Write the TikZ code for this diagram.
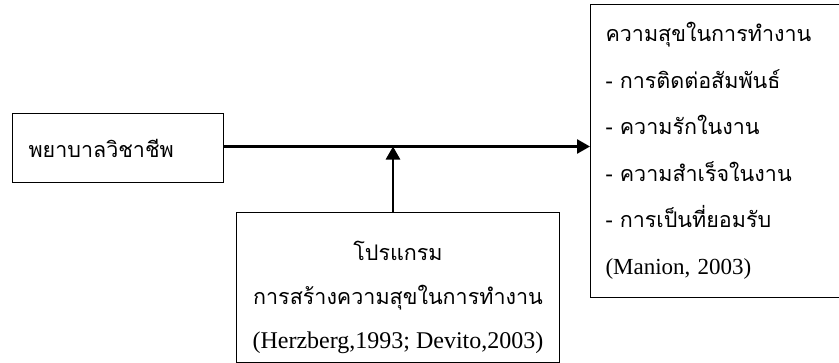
\documentclass[tikz,border=0pt]{standalone}
\usepackage{fontspec}
\usepackage{tikz}
\usetikzlibrary{arrows.meta}
\setmainfont{Liberation Serif}
\newfontfamily\thaifont[Script=Thai]{Loma}

\tikzset{
    framebox/.style={draw=black, line width=1pt, inner sep=0pt},
    flowline/.style={line width=2.6pt, -{Triangle[length=13pt, width=14pt]}}
}

\begin{document}
\begin{tikzpicture}[x=1pt, y=-1pt]
    \useasboundingbox (0,0) rectangle (839,362);
    % left box
    \node[framebox, anchor=north west, minimum width=211pt, minimum height=69pt,
          text width=179pt, align=left, inner xsep=16pt] (nurse) at (12,113)
          {\thaifont\fontsize{21.5}{24}\selectfont พยาบาลวิชาชีพ};
    % right box
    \node[framebox, anchor=north west, minimum width=253pt, minimum height=293pt,
          text width=223pt, align=left, inner xsep=15pt,
          font={\fontsize{21.5}{46.5}\selectfont}] (happy) at (590,4)
          {\thaifont ความสุขในการทำงาน\\
           \thaifont - การติดต่อสัมพันธ์\\
           \thaifont - ความรักในงาน\\
           \thaifont - ความสำเร็จในงาน\\
           \thaifont - การเป็นที่ยอมรับ\\
           \rmfamily\fontsize{23}{46.5}\selectfont (Manion, 2003)};
    % bottom box
    \node[framebox, anchor=north west, minimum width=323pt, minimum height=150pt] (prog) at (236,212) {};
    \node[anchor=south, align=center, inner sep=0pt, font={\fontsize{21.5}{44}\selectfont}] (progtext)
          at ([yshift=9pt]prog.south)
          {\thaifont โปรแกรม\\
           \thaifont การสร้างความสุขในการทำงาน\\
           \rmfamily\fontsize{24}{44}\selectfont (Herzberg,1993; Devito,2003)};
    % connectors
    \draw[flowline] ([yshift=1.5pt]nurse.east) -- ([yshift=1.5pt]nurse.east -| happy.west);
    \draw[flowline] ([xshift=-5pt]prog.north) -- ([xshift=-5pt, yshift=1.5pt]prog.north |- nurse.east);
\end{tikzpicture}
\end{document}
